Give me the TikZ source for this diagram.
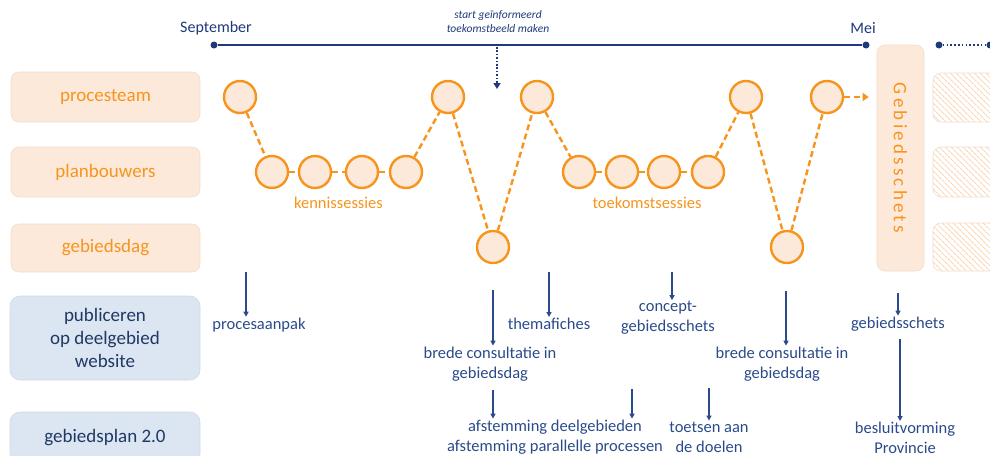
\documentclass[tikz,border=0pt]{standalone}
\usepackage{fontspec}
\usepackage{graphicx}
\setmainfont{Carlito}
\newfontfamily\spacedfont[LetterSpace=17]{Carlito}
\usetikzlibrary{arrows.meta,patterns.meta}
\definecolor{orng}{HTML}{F7941D}
\definecolor{peach}{HTML}{FDE9D9}
\definecolor{peachline}{HTML}{F1DCCD}
\definecolor{navy}{HTML}{1F3A7A}
\definecolor{txtblue}{HTML}{2A4A8A}
\definecolor{boxtxt}{HTML}{1F3864}
\definecolor{boxblue}{HTML}{DCE6F2}
\definecolor{boxblueline}{HTML}{D0DAE8}
\definecolor{hatchc}{HTML}{FAD6B4}
\begin{document}
\begin{tikzpicture}[x=1pt,y=-1pt,
  lanebox/.style={rounded corners=8pt, fill=peach, draw=peachline, line width=0.6pt,
    minimum width=189pt, inner sep=0pt, text=orng, font=\fontsize{19}{23}\selectfont, align=center},
  bluebox/.style={rounded corners=10pt, fill=boxblue, draw=boxblueline, line width=0.6pt,
    minimum width=190pt, inner sep=0pt, text=boxtxt, font=\fontsize{19}{23}\selectfont, align=center},
  sess/.style={circle, minimum size=32pt, inner sep=0pt, draw=orng, line width=2.4pt, fill=peach},
  conn/.style={orng, line width=2.4pt, dash pattern=on 6pt off 3.5pt},
  sesslbl/.style={text=orng, font=\fontsize{16.5}{20}\selectfont},
  lbl/.style={text=txtblue, font=\fontsize{16.5}{20}\selectfont, align=center, inner sep=1pt},
  arr/.style={txtblue, line width=1.2pt, -{Triangle[length=5pt,width=5pt]}},
  tdot/.style={circle, fill=navy, minimum size=7pt, inner sep=0pt},
  hatchbox/.style={rounded corners=8pt, draw=peachline, line width=0.6pt,
    pattern={Lines[angle=-45,distance=4pt,line width=1.2pt]}, pattern color=hatchc,
    minimum width=80pt, inner sep=0pt},
]
\useasboundingbox (0,0) rectangle (990,455);
\clip (0,0) rectangle (990,455);

% lane boxes
\node[lanebox, minimum height=50pt] (procesteam) at (105.5,97) {procesteam};
\node[lanebox, minimum height=50pt] (planbouwers) at (105.5,172) {planbouwers};
\node[lanebox, minimum height=48pt] (gebiedsdag) at (105.5,248) {gebiedsdag};
\node[bluebox, minimum height=84pt] (publiceren) at (105,338) {publiceren\\op deelgebied\\website};
\node[bluebox, minimum height=52pt] (gebiedsplan) at (105,438) {gebiedsplan 2.0};

% timeline
\node[tdot] (sep) at (214,45) {};
\node[tdot] (mei) at (866,45) {};
\draw[navy, line width=2pt] (sep) -- (mei);
\node[text=navy, font=\fontsize{16}{19}\selectfont] (septxt) at (216,28) {September};
\node[text=navy, font=\fontsize{16}{19}\selectfont] (meitxt) at (863,28) {Mei};
\node[tdot] (nxt1) at (939,45) {};
\node[tdot] (nxt2) at (990,45) {};
\draw[navy, line width=2pt, dash pattern=on 1.6pt off 2.2pt] (nxt1) -- (nxt2);

% start label
\node[text=navy, font=\fontsize{11.5}{14}\itshape, align=center] (startlbl) at (498,22) {start geïnformeerd\\toekomstbeeld maken};
\coordinate (sgtop) at (497,47);
\coordinate (sgend) at (497,89);
\draw[navy, line width=2.2pt, dash pattern=on 1.6pt off 1.8pt, -{Triangle[length=6pt,width=7pt]}] (sgtop) -- (sgend);

% sessions
\node[sess] (p1) at (240,97) {};
\node[sess] (k1) at (272,172) {};
\node[sess] (k2) at (315,172) {};
\node[sess] (k3) at (362,172) {};
\node[sess] (k4) at (406,172) {};
\node[sess] (p2) at (448,97) {};
\node[sess] (g1) at (493,247) {};
\node[sess] (p3) at (537,97) {};
\node[sess] (t1) at (579,172) {};
\node[sess] (t2) at (622,172) {};
\node[sess] (t3) at (664,172) {};
\node[sess] (t4) at (708,172) {};
\node[sess] (p4) at (746,97) {};
\node[sess] (g2) at (787,247) {};
\node[sess] (p5) at (827,97) {};
\foreach \a/\b in {p1/k1,k1/k2,k2/k3,k3/k4,k4/p2,p2/g1,g1/p3,p3/t1,t1/t2,t2/t3,t3/t4,t4/p4,p4/g2,g2/p5}
  \draw[conn] (\a) -- (\b);

\node[sesslbl] (kenn) at (338.5,203) {kennissessies};
\node[sesslbl] (toek) at (647,203) {toekomstsessies};

% Gebiedsschets column
\node[rounded corners=8pt, fill=peach, draw=peachline, line width=0.6pt,
  minimum width=47pt, minimum height=226pt, inner sep=0pt, text=orng] (gs) at (900.5,158)
  {\rotatebox{-90}{\fontsize{19}{22}\spacedfont Gebiedsschets}};
\draw[conn, -{Triangle[length=6pt,width=8pt]}, shorten >=8pt] (p5) -- (p5 -| gs.west);

% hatched boxes
\node[hatchbox, minimum height=49pt] (h1) at (973,97.5) {};
\node[hatchbox, minimum height=50pt] (h2) at (973,172) {};
\node[hatchbox, minimum height=48pt] (h3) at (973,247) {};

% outcome labels
\node[lbl] (procesaanpak) at (259,325) {procesaanpak};
\node[lbl] (bc1) at (490,364) {brede consultatie in\\gebiedsdag};
\node[lbl] (themafiches) at (549,324) {themafiches};
\node[lbl] (concept) at (668,318) {concept-\\gebiedsschets};
\node[lbl] (bc2) at (782,364) {brede consultatie in\\gebiedsdag};
\node[lbl] (gbsch) at (898,324) {gebiedsschets};
\node[lbl] (afst) at (555,437) {afstemming deelgebieden\\afstemming parallelle processen};
\node[lbl] (toets) at (709,437) {toetsen aan\\de doelen};
\node[lbl] (besluit) at (905,438) {besluitvorming\\Provincie};

% arrows
\coordinate (a1) at (246,272);
\draw[arr] (a1) -- (a1 |- procesaanpak.north);
\coordinate (a2) at (493,290);
\draw[arr] (a2) -- (a2 |- bc1.north);
\coordinate (a3) at (549,272);
\draw[arr] (a3) -- (a3 |- themafiches.north);
\coordinate (a4) at (672,272);
\draw[arr] (a4) -- (a4 |- concept.north);
\coordinate (a5) at (786,291);
\draw[arr] (a5) -- (a5 |- bc2.north);
\coordinate (a6) at (898,293);
\draw[arr] (a6) -- (a6 |- gbsch.north);
\coordinate (a7) at (493,390);
\draw[arr] (a7) -- (a7 |- afst.north);
\coordinate (a8) at (632,389);
\draw[arr] (a8) -- (a8 |- afst.north);
\coordinate (a9) at (709,388);
\draw[arr] (a9) -- (a9 |- toets.north);
\coordinate (a10) at (900,339);
\draw[arr] (a10) -- (a10 |- besluit.north);
\end{tikzpicture}
\end{document}
